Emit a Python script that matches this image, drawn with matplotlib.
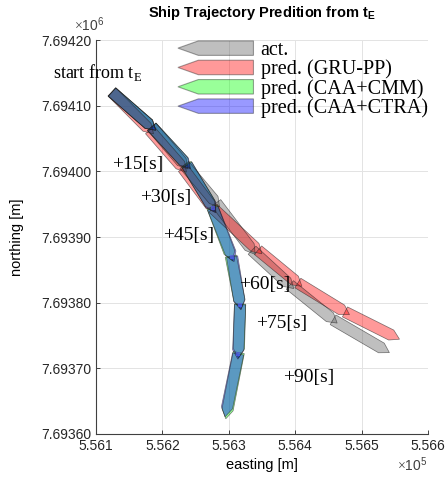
import matplotlib
matplotlib.use("Agg")
import matplotlib.pyplot as plt
from matplotlib.patches import Polygon
from matplotlib.legend_handler import HandlerPatch
import numpy as np

plt.rcParams['font.family'] = ['Liberation Sans', 'DejaVu Sans']
plt.rcParams['mathtext.fontset'] = 'custom'
plt.rcParams['mathtext.rm'] = 'Liberation Serif'
plt.rcParams['mathtext.sf'] = 'Liberation Sans'
plt.rcParams['mathtext.bf'] = 'Liberation Sans:bold'

# trajectories (easting, northing) in metres, 15 s steps, first point = start pose
act_e = [556124, 556184, 556233, 556281, 556335, 556392, 556457, 556535]
act_n = [7694121, 7694068, 7694010, 7693952, 7693880, 7693827, 7693774, 7693728]
gru_e = [556124, 556181, 556231, 556276, 556344, 556404, 556475, 556550]
gru_n = [7694121, 7694063, 7694005, 7693944, 7693880, 7693830, 7693786, 7693748]
cmm_e = [556124, 556184, 556236, 556275, 556303, 556317, 556315, 556297]
cmm_n = [7694121, 7694068, 7694011, 7693946, 7693871, 7693798, 7693724, 7693631]
ctra_e = [556124, 556184, 556237, 556276, 556305, 556317, 556314, 556296]
ctra_n = [7694121, 7694068, 7694010, 7693944, 7693870, 7693797, 7693722, 7693634]

series_names = ['act.', 'pred. (GRU-PP)', 'pred. (CAA+CMM)', 'pred. (CAA+CTRA)']
series_colors = ['#606060', '#ff0000', '#00ff00', '#0000ff']

time_labels = ['+15[s]', '+30[s]', '+45[s]', '+60[s]', '+75[s]', '+90[s]']
label_e = [556163, 556205, 556239, 556354, 556379, 556421]
label_n = [7694010, 7693961, 7693902, 7693827, 7693769, 7693686]

xticks = [556100, 556200, 556300, 556400, 556500, 556600]
xticklabels = ['5.561', '5.562', '5.563', '5.564', '5.565', '5.566']
yticks = [7693600, 7693700, 7693800, 7693900, 7694000, 7694100, 7694200]
yticklabels = ['7.69360', '7.69370', '7.69380', '7.69390', '7.69400', '7.69410', '7.69420']

SHIP_W = 17.0


def ship(a, b, w=SHIP_W, bow=14.0, ext=8.0):
    a = np.asarray(a, float)
    b = np.asarray(b, float)
    d = b - a
    L = np.hypot(*d)
    u = d / L
    n = np.array([-u[1], u[0]])
    tip = b + u * ext
    m = tip - u * bow
    return [a - n * w / 2, m - n * w / 2, tip, m + n * w / 2, a + n * w / 2]


fig = plt.figure(figsize=(4.48, 4.88), dpi=100)
ax = fig.add_axes([0.2143, 0.1107, 0.741, 0.807])

for (es, ns), col in zip([(act_e, act_n), (gru_e, gru_n), (cmm_e, cmm_n), (ctra_e, ctra_n)],
                         series_colors):
    for i in range(len(es) - 1):
        pts = ship((es[i], ns[i]), (es[i + 1], ns[i + 1]))
        ax.add_patch(Polygon(pts, closed=True, facecolor=col, alpha=0.4,
                             edgecolor='none', zorder=2))
        ax.add_patch(Polygon(pts, closed=True, facecolor='none', edgecolor='#202020',
                             lw=0.5, alpha=0.6, zorder=3))

ax.scatter(ctra_e[3:-1], ctra_n[3:-1], marker='s', s=10, color='#6060ff', alpha=0.6,
           zorder=4, lw=0)

for t, x, y in zip(time_labels, label_e, label_n):
    ax.text(x, y, t, fontsize=14, family='Liberation Serif', ha='center', va='center', zorder=5)
ax.text(556103, 7694151, r'start from t$_\mathrm{E}$', fontsize=13, family='Liberation Serif',
        ha='center', va='center', zorder=5)


def legend_ship(legend, orig_handle, xdescent, ydescent, width, height, fontsize):
    x0, y0 = -xdescent, -ydescent
    t = width * 0.27
    pts = [(x0, y0 + height / 2), (x0 + t, y0 + height * 0.97), (x0 + width, y0 + height * 0.97),
           (x0 + width, y0 + height * 0.03), (x0 + t, y0 + height * 0.03)]
    return Polygon(pts, closed=True)


handles = [Polygon([[0, 0], [1, 0], [1, 1]], facecolor=c, alpha=0.4, lw=0.8)
           for c in series_colors]
for h in handles:
    h.set_edgecolor((0.1, 0.1, 0.1, 1.0))
leg = ax.legend(handles, series_names, loc='upper right', bbox_to_anchor=(1.035, 1.03),
                frameon=False, handlelength=3.75, handleheight=0.8, handletextpad=0.35,
                labelspacing=-0.02, borderaxespad=0.2,
                prop={'family': 'Liberation Serif', 'size': 14.5},
                handler_map={Polygon: HandlerPatch(patch_func=legend_ship)})

ax.set_xlim(556100, 556600)
ax.set_ylim(7693600, 7694200)
ax.set_xticks(xticks)
ax.set_xticklabels(xticklabels, fontsize=10)
ax.set_yticks(yticks)
ax.set_yticklabels(yticklabels, fontsize=10)
ax.tick_params(direction='in', length=3, width=0.6, colors='#262626')
ax.grid(True, color='#e3e3e3', lw=0.7)
ax.set_axisbelow(True)
for s in ['top', 'right']:
    ax.spines[s].set_visible(False)
for s in ['left', 'bottom']:
    ax.spines[s].set_color('#404040')
    ax.spines[s].set_linewidth(0.8)

ax.set_xlabel('easting [m]', fontsize=10.5, labelpad=4)
ax.set_ylabel('northing [m]', fontsize=10.5, labelpad=12)
ax.set_title(r'Ship Trajectory Predition from $\mathbf{t_E}$', fontsize=10.5,
             fontweight='bold', pad=17)
fig.text(0.165, 0.937, r'$\times\mathdefault{10^{6}}$', fontsize=10, color='#404040')
fig.text(0.955, 0.035, r'$\times\mathdefault{10^{5}}$', fontsize=10, color='#404040', ha='right')

fig.savefig('out.png', dpi=100)
